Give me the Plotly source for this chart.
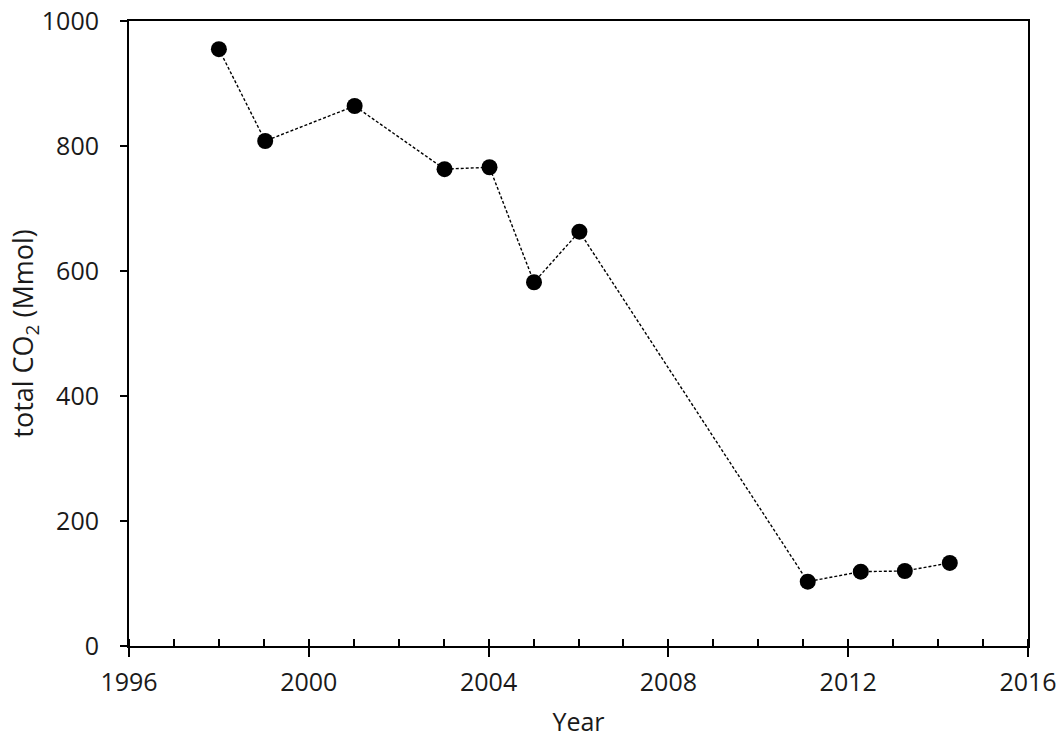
import plotly.graph_objects as go

# values
years = [1998.0, 1999.03, 2001.02, 2003.02, 2004.02, 2005.01, 2006.02,
         2011.1, 2012.28, 2013.26, 2014.26]
total_co2 = [955, 808, 864, 763, 766, 582, 663, 103, 119, 120, 133]

x_ticks = [1996, 2000, 2004, 2008, 2012, 2016]
y_ticks = [0, 200, 400, 600, 800, 1000]

FONT = "Open Sans"
TEXT = "#1a1a1a"

fig = go.Figure()
fig.add_trace(go.Scatter(
    x=years,
    y=total_co2,
    mode="lines+markers",
    line=dict(color="black", width=1.4, dash="3px,2px"),
    marker=dict(color="black", size=16, symbol="circle"),
    showlegend=False,
))

fig.update_layout(
    width=1063,
    height=738,
    autosize=False,
    template="plotly_white",
    paper_bgcolor="white",
    plot_bgcolor="white",
    margin=dict(l=129, r=35, t=21, b=92),
    font=dict(family=FONT, size=25, color=TEXT),
)

fig.update_xaxes(
    range=[1996, 2016],
    tickvals=x_ticks,
    ticks="outside",
    ticklen=9,
    tickwidth=2,
    tickcolor="black",
    showgrid=False,
    zeroline=False,
    showline=True,
    linecolor="black",
    linewidth=2,
    mirror=True,
    automargin=False,
    ticklabeloverflow="allow",
    ticklabelstandoff=4,
    minor=dict(dtick=1, tick0=1996, ticks="inside", ticklen=7,
               tickwidth=2, tickcolor="black", showgrid=False),
    title=dict(text="Year", font=dict(family=FONT, size=25, color=TEXT), standoff=22),
    tickfont=dict(family=FONT, size=25, color=TEXT),
)

fig.update_yaxes(
    range=[0, 1000],
    tickvals=y_ticks,
    ticks="outside",
    ticklen=7,
    tickwidth=2,
    tickcolor="black",
    showgrid=False,
    zeroline=False,
    showline=True,
    linecolor="black",
    linewidth=2,
    mirror=True,
    automargin=False,
    ticklabeloverflow="allow",
    ticklabelstandoff=16,
    title=dict(text="total CO<sub>2</sub> (Mmol)",
               font=dict(family=FONT, size=27, color=TEXT), standoff=0),
    tickfont=dict(family=FONT, size=25, color=TEXT),
)

# drop the default body margin so the figure sits at the window's top-left
fig.write_html("out.html", config={"displayModeBar": False},
               post_script="document.body.style.margin='0';")
